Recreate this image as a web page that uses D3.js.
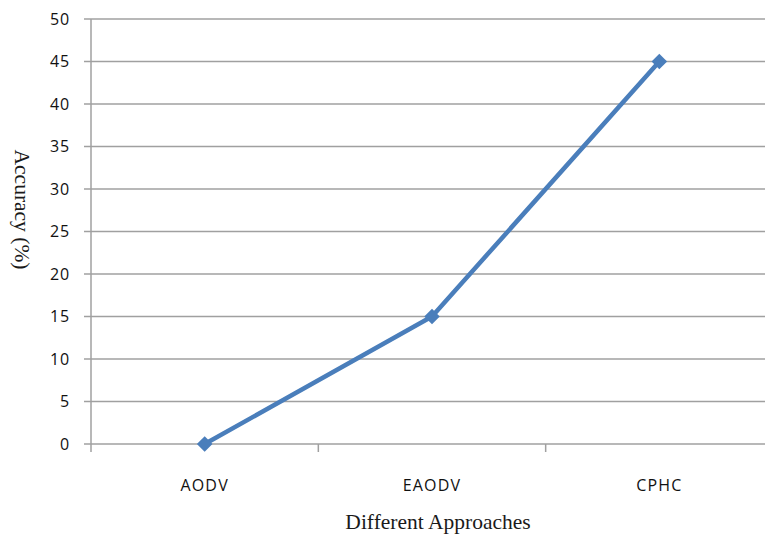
<!DOCTYPE html>
<html><head><meta charset="utf-8">
<script src="https://cdn.jsdelivr.net/npm/d3@7"></script>
<style>body{margin:0;background:#fff;} svg{display:block;}</style>
</head><body>
<script>
const categories = ["AODV", "EAODV", "CPHC"];
const accuracy = [0, 15, 45];
const yTicks = [0, 5, 10, 15, 20, 25, 30, 35, 40, 45, 50];
const xTitle = "Different Approaches";
const yTitle = "Accuracy (%)";

const W = 765, H = 536;
const m = {left: 91, top: 19, right: -8, bottom: 92};
const svg = d3.select("body").append("svg").attr("width", W).attr("height", H);

const x = d3.scaleBand().domain(categories).range([m.left, W - m.right]);
const y = d3.scaleLinear().domain([0, 50]).range([H - m.bottom, m.top]);

// gridlines
svg.append("g").selectAll("line").data(yTicks).join("line")
  .attr("x1", m.left - 7).attr("x2", W)
  .attr("y1", d => y(d)).attr("y2", d => y(d))
  .attr("stroke", "#a0a0a0").attr("stroke-width", 1.5);

// y axis line
svg.append("line").attr("x1", m.left).attr("x2", m.left)
  .attr("y1", y(50)).attr("y2", y(0) + 8)
  .attr("stroke", "#a0a0a0").attr("stroke-width", 1.5);

// x ticks at band boundaries
const bounds = categories.map(c => x(c)).slice(1);
svg.append("g").selectAll("line").data(bounds).join("line")
  .attr("x1", d => d).attr("x2", d => d)
  .attr("y1", y(0)).attr("y2", y(0) + 8)
  .attr("stroke", "#a0a0a0").attr("stroke-width", 1.5);

// y tick labels
svg.append("g").selectAll("text").data(yTicks).join("text")
  .attr("x", m.left - 21).attr("y", d => y(d))
  .attr("dy", "0.35em").attr("text-anchor", "end")
  .attr("font-family", "Open Sans, sans-serif").attr("font-size", 16)
  .attr("letter-spacing", 0.8)
  .attr("fill", "#111").text(d => d);

// x tick labels
svg.append("g").selectAll("text").data(categories).join("text")
  .attr("x", d => x(d) + x.bandwidth() / 2).attr("y", y(0) + 47)
  .attr("text-anchor", "middle")
  .attr("font-family", "Open Sans, sans-serif").attr("font-size", 16)
  .attr("letter-spacing", 1.2)
  .attr("fill", "#111").text(d => d);

// line
const pts = categories.map((c, i) => [x(c) + x.bandwidth() / 2, y(accuracy[i])]);
svg.append("path").attr("d", d3.line()(pts))
  .attr("fill", "none").attr("stroke", "#4a7ebb").attr("stroke-width", 4.5)
  .attr("stroke-linejoin", "round");

svg.append("g").selectAll("path").data(pts).join("path")
  .attr("d", d3.symbol(d3.symbolSquare, 121)())
  .attr("transform", d => `translate(${d[0]},${d[1]}) rotate(45)`)
  .attr("fill", "#4a7ebb");

// axis titles
svg.append("text").attr("x", x("EAODV") + x.bandwidth() / 2 + 6).attr("y", 529)
  .attr("text-anchor", "middle")
  .attr("font-family", "Liberation Serif, Times New Roman, serif").attr("font-size", 21.5)
  .attr("fill", "#1a1a1a").text(xTitle);

svg.append("text")
  .attr("transform", `translate(15, ${(y(0) + y(50)) / 2 - 22}) rotate(90)`)
  .attr("text-anchor", "middle")
  .attr("font-family", "Liberation Serif, Times New Roman, serif").attr("font-size", 21.5)
  .attr("fill", "#1a1a1a").text(yTitle);
</script>
</body></html>
